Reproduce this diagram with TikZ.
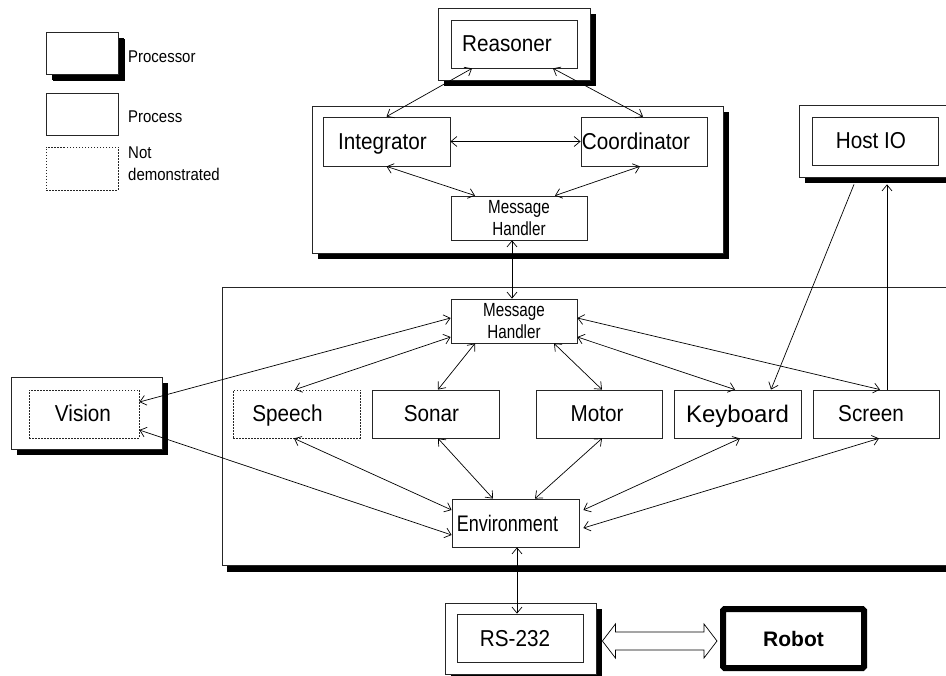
\documentclass[tikz,border=0pt]{standalone}
\usepackage{fontspec}
\setmainfont{Liberation Sans}
\newfontfamily\labf[FakeStretch=0.9]{Liberation Sans}
\newfontfamily\envf[FakeStretch=0.8]{Liberation Sans}
\newfontfamily\smf[FakeStretch=0.8]{Liberation Sans}
\newfontfamily\legf[FakeStretch=0.88]{Liberation Sans}
\usetikzlibrary{shadows,arrows.meta,calc}
\tikzset{
  box/.style={draw=black!85, line width=0.8pt, fill=white, inner sep=0pt,
    minimum width=126pt, minimum height=48pt, text height=16pt, text depth=0pt,
    font=\labf\fontsize{23}{26}\selectfont},
  proc/.style={box, drop shadow={shadow xshift=6pt, shadow yshift=-6pt, fill=black, opacity=1, draw=none}},
  ndem/.style={box, dash pattern=on 1.5pt off 1.5pt},
  mh/.style={box, minimum height=44pt, text height=, text depth=, align=center, font=\smf\fontsize{19}{22}\selectfont},
  tip/.tip={Straight Barb[length=6pt,width=10pt]},
  link/.style={line width=0.7pt, tip-tip},
  one/.style={line width=0.7pt, -tip},
  leg/.style={anchor=west, inner sep=0pt, font=\legf\fontsize{17}{22}\selectfont, align=left}
}
\begin{document}
\begin{tikzpicture}[x=1pt,y=-1pt]
\useasboundingbox (0,0) rectangle (946,676);
\clip (0,0) rectangle (946,676);
% legend
\node[proc, minimum width=72pt, minimum height=42pt, drop shadow={shadow xshift=7pt, shadow yshift=-7pt, fill=black, opacity=1, draw=none}] (lproc) at (82,53) {};
\node[box, minimum width=72pt, minimum height=42pt] (lprocess) at (82,114) {};
\node[ndem, minimum width=72pt, minimum height=43pt] (lnot) at (82,168.5) {};
\node[leg] (tproc) at (128,57) {Processor};
\node[leg] (tprocess) at (128,117) {Process};
\node[leg] (tnot) at (128,164) {Not\\demonstrated};
% processors
\node[proc, minimum width=152pt, minimum height=72pt] (reasout) at (514,44) {};
\node[proc, minimum width=411pt, minimum height=147pt] (midout) at (517.5,179.5) {};
\node[proc, minimum width=740pt, minimum height=278pt, drop shadow={shadow xshift=5pt, shadow yshift=-7pt, fill=black, opacity=1, draw=none}] (bigout) at (592,426) {};
\node[proc, minimum width=151pt, minimum height=72pt] (visout) at (86.5,413) {};
\node[proc, minimum width=156pt, minimum height=72pt] (hostout) at (877,141) {};
\node[proc, minimum width=151pt, minimum height=71pt] (rsout) at (520.5,638.5) {};
% processes
\node[box] (reasin) at (514,44) {Reasoner\hspace*{14pt}};
\node[box, minimum width=127pt, minimum height=49pt] (integ) at (386.5,141.5) {Integrator\hspace*{8pt}};
\node[box, minimum height=49pt] (coord) at (644,141.5) {Coordinator\hspace*{16pt}};
\node[mh, minimum width=136pt] (mhtop) at (519,218) {Message\\Handler};
\node[mh] (mhbot) at (514,321) {Message\\Handler};
\node[ndem, minimum width=127pt] (speech) at (296.5,414) {Speech\hspace*{18pt}};
\node[box, minimum width=127pt] (sonar) at (435.5,414) {Sonar\hspace*{8pt}};
\node[box] (motor) at (599,414) {Motor\hspace*{4pt}};
\node[box, minimum width=127pt, text height=17pt, font=\fontsize{24}{27}\selectfont] (kbd) at (737.5,414) {Keyboard};
\node[box] (screen) at (876,414) {Screen\hspace*{10pt}};
\node[box, minimum width=127pt, font=\envf\fontsize{22.5}{26}\selectfont] (env) at (515.5,523) {Environment\hspace*{16pt}};
\node[ndem, minimum width=110pt] (visin) at (84,414) {Vision\hspace*{2pt}};
\node[box] (hostin) at (875,141) {Host IO\hspace*{8pt}};
\node[box] (rsin) at (520,638) {RS-232\hspace*{10pt}};
\node[draw, line width=6pt, rounded corners=1.5pt, fill=white, inner sep=0pt,
  minimum width=141pt, minimum height=59pt, text height=15pt, text depth=0pt,
  font=\bfseries\fontsize{21}{24}\selectfont] (robot) at (793.5,638.5) {Robot};
% connectors
\draw[link] ([xshift=-42pt]reasin.south) -- (integ.north);
\draw[link] ([xshift=39pt]reasin.south) -- ([xshift=-1pt]coord.north);
\draw[link] (integ.east) -- (coord.west);
\draw[link] (integ.south) -- ([xshift=-44pt]mhtop.north);
\draw[link] ([xshift=-4pt]coord.south) -- ([xshift=36pt]mhtop.north);
\draw[link] ([xshift=-7pt]mhtop.south) -- ([xshift=-2pt]mhbot.north);
\draw[link] ([yshift=3pt]mhbot.west) -- ([yshift=12pt]visin.east);
\draw[link] ([yshift=-16pt]mhbot.west) -- ([xshift=-1.5pt]speech.north);
\draw[link] ([xshift=-39pt]mhbot.south) -- ([xshift=2.5pt]sonar.north);
\draw[link] ([xshift=40pt]mhbot.south) -- ([xshift=3pt]motor.north);
\draw[link] ([yshift=-16pt]mhbot.east) -- ([xshift=-2.5pt]kbd.north);
\draw[link] ([yshift=3pt]mhbot.east) -- ([xshift=4pt]screen.north);
\draw[one] ([xshift=-23pt,yshift=-7pt]hostout.south) -- ([xshift=33.5pt]kbd.north);
\draw[one] ([xshift=11pt]screen.north) -- ([xshift=10pt,yshift=-7pt]hostout.south);
\draw[link] ([yshift=-16pt]visin.east) -- ([yshift=-12pt]env.west);
\draw[link] ([xshift=-2.5pt]speech.south) -- ([yshift=13pt]env.west);
\draw[link] ([xshift=2.5pt]sonar.south) -- ([xshift=-22.5pt]env.north);
\draw[link] ([xshift=3pt]motor.south) -- ([xshift=19.5pt]env.north);
\draw[link] ([xshift=2.5pt]kbd.south) -- ([xshift=4pt,yshift=13pt]env.east);
\draw[link] ([xshift=3pt]screen.south) -- ([xshift=4pt,yshift=-5pt]env.east);
\draw[link] ([xshift=1.5pt]env.south) -- ([xshift=-3pt]rsin.north);
% hollow double arrow RS-232 <-> Robot
\coordinate (dl) at ($(rsout.east)+(6,2.5)$);
\coordinate (dr) at ($(robot.west)+(-3,2.5)$);
\draw[line width=0.7pt, fill=white] (dl) -- ($(dl)+(13,-17)$) -- ($(dl)+(13,-9)$)
  -- ($(dr)+(-13,-9)$) -- ($(dr)+(-13,-17)$) -- (dr) -- ($(dr)+(-13,17)$)
  -- ($(dr)+(-13,9)$) -- ($(dl)+(13,9)$) -- ($(dl)+(13,17)$) -- cycle;
\end{tikzpicture}
\end{document}
